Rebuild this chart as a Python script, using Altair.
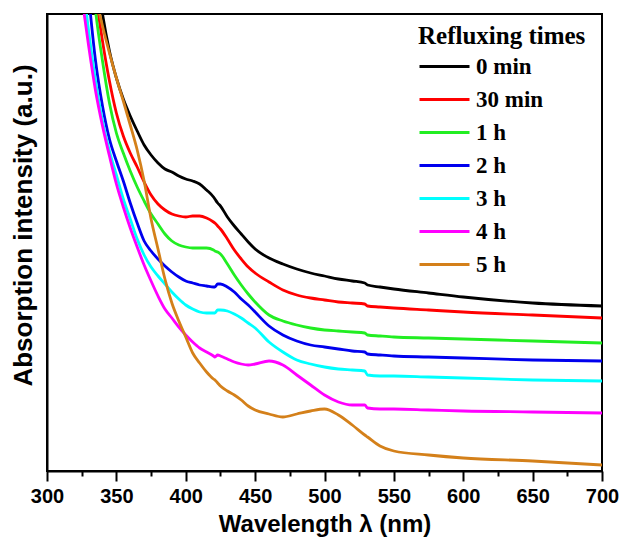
import altair as alt
import pandas as pd

wavelength = [325, 330, 335, 340, 345, 350, 355, 360, 365, 370, 375, 380, 385, 390, 395, 400,
              405, 410, 415, 420, 421, 423, 425, 430, 435, 440, 445, 450, 460, 470, 480,
              490, 500, 510, 520, 529, 531, 540, 550, 575, 600, 650, 700]

series_names = ["0 min", "30 min", "1 h", "2 h", "3 h", "4 h", "5 h"]
series_colors = ["#000000", "#FF0000", "#22EE22", "#0000EE", "#00FFFF", "#FF00FF", "#D4801A"]

a_0min = [620, 560, 505, 457, 420, 393, 372, 355, 340, 326, 316, 308, 302, 299, 295, 292,
          290, 287, 281, 274, 272, 268, 265, 254, 245, 237, 229, 222, 213, 207, 202,
          198, 195, 192, 190, 188, 186, 184, 182, 178, 174, 168, 165]
a_30min = [610, 540, 478, 430, 390, 358, 335, 318, 304, 289, 276, 267, 261, 257, 255, 254,
           255, 255, 253, 249, 248, 245, 242, 232, 221, 212, 204, 198, 189, 181, 176,
           173, 171, 169, 168, 167, 165, 164, 163, 161, 159, 156, 153]
a_1h = [600, 530, 460, 410, 368, 338, 318, 300, 284, 270, 257, 247, 237, 230, 226, 224,
        223, 223, 223, 221, 220, 219, 217, 207, 196, 186, 177, 169, 156, 150, 146,
        143, 141, 140, 139, 138, 136, 135, 134, 133, 132, 130, 128]
a_2h = [545, 475, 410, 365, 332, 310, 290, 268, 248, 230, 220, 212, 205, 199, 194, 190,
        188, 186, 185, 184, 184, 187, 187, 184, 179, 172, 166, 159, 145, 136, 130,
        126, 124, 122, 120, 119, 117, 116, 115, 114, 113, 111, 110]
a_3h = [500, 440, 390, 350, 320, 296, 272, 252, 232, 216, 204, 195, 187, 179, 172, 166,
        162, 159, 158, 158, 158, 161, 161, 160, 157, 153, 148, 143, 129, 119, 111,
        107, 104, 102, 101, 100, 96, 95, 95, 94, 93, 91, 90]
a_4h = [475, 425, 380, 345, 315, 287, 264, 243, 224, 206, 190, 175, 162, 153, 144, 136,
        129, 123, 119, 115, 114, 116, 115, 112, 109, 107, 106, 107, 110, 106, 96,
        86, 76, 69, 66, 66, 63, 62, 62, 61, 60, 59, 58]
a_5h = [540, 505, 475, 445, 418, 393, 370, 346, 321, 290, 252, 222, 192, 168, 150, 134,
        118, 108, 99, 92, 91, 88, 85, 80, 76, 71, 65, 61, 57, 54, 57,
        60, 62, 56, 46, 36, 34, 25, 20, 16, 13, 10, 6]

major_ticks = [300, 350, 400, 450, 500, 550, 600, 650, 700]
minor_ticks = [325, 375, 425, 475, 525, 575, 625, 675]

all_series = [a_0min, a_30min, a_1h, a_2h, a_3h, a_4h, a_5h]
rows = []
for name, vals in zip(series_names, all_series):
    for w, v in zip(wavelength, vals):
        rows.append({"wl": w, "A": v, "series": name})
df = pd.DataFrame(rows)

xscale = alt.Scale(domain=[300, 700], nice=False, zero=False)
yscale = alt.Scale(domain=[0, 457], nice=False, zero=True)

y_axis = alt.Axis(labels=False, ticks=False, grid=False, domainColor="black", domainWidth=2,
                  title="Absorption intensity (a.u.)", titleFont="Liberation Sans",
                  titleFontSize=26, titleFontWeight="bold", titleColor="black",
                  titlePadding=11, titleY=211)

lines = alt.Chart(df).mark_line(strokeWidth=2.8, clip=True, interpolate="monotone").encode(
    x=alt.X("wl:Q", scale=xscale,
            axis=alt.Axis(values=major_ticks, grid=False, domainColor="black", domainWidth=2,
                          tickColor="black", tickWidth=2, tickSize=10,
                          labelFont="Liberation Sans", labelFontSize=20, labelFontWeight="bold",
                          labelColor="black", labelPadding=5, labelFlush=False,
                          title="Wavelength λ (nm)", titleFont="Liberation Sans",
                          titleFontSize=24, titleFontWeight="bold", titleColor="black",
                          titlePadding=6)),
    y=alt.Y("A:Q", scale=yscale, axis=y_axis),
    color=alt.Color("series:N",
                    scale=alt.Scale(domain=series_names, range=series_colors),
                    sort=series_names,
                    legend=alt.Legend(title="Refluxing times", orient="none", legendX=371, legendY=10,
                                      titleFont="Liberation Serif", titleFontSize=25,
                                      titleFontWeight="bold", titleColor="black", titlePadding=6,
                                      labelFont="Liberation Serif", labelFontSize=23,
                                      labelFontWeight="bold", labelColor="black", labelOffset=35,
                                      symbolType="M-1,0H4", symbolSize=400, symbolStrokeWidth=3,
                                      rowPadding=9)),
)

minor = alt.Chart(df).mark_point(opacity=0).encode(
    x=alt.X("wl:Q", scale=xscale,
            axis=alt.Axis(values=minor_ticks, orient="bottom", grid=False, labels=False, domain=False,
                          tickColor="black", tickWidth=2, tickSize=5, title=None)),
    y=alt.Y("A:Q", scale=yscale, axis=y_axis),
)

chart = alt.layer(lines, minor).resolve_axis(x="independent").properties(
    width=555, height=457,
    autosize=alt.AutoSizeParams(type="none"),
    padding={"left": 47, "top": 14, "right": 18, "bottom": 68},
    background="white",
).configure_view(stroke="black", strokeWidth=2)

chart.save("out.html", embed_options={"renderer": "svg", "actions": False})
